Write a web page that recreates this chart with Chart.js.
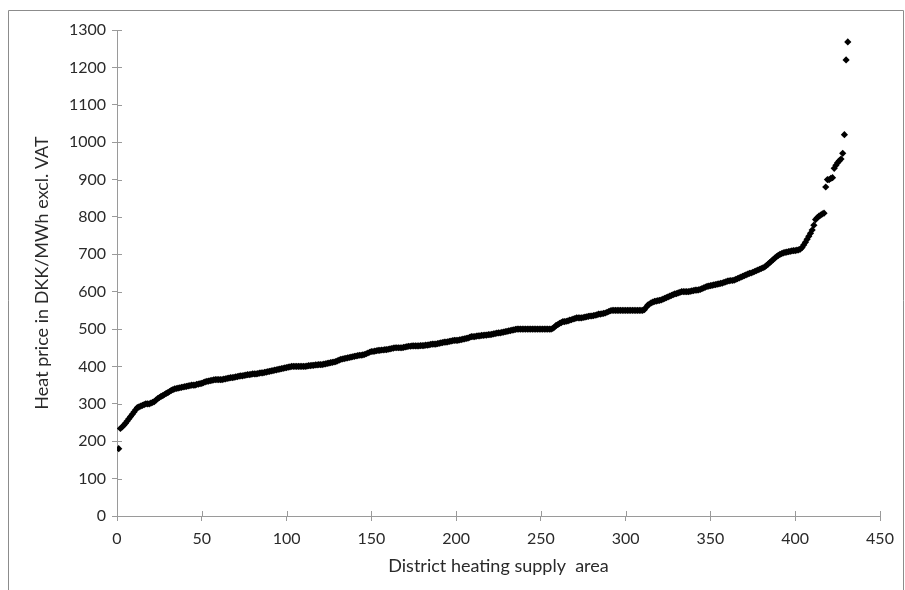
<!DOCTYPE html>
<html>
<head>
<meta charset="utf-8">
<script src="https://cdn.jsdelivr.net/npm/chart.js@4/dist/chart.umd.min.js"></script>
<style>
  html, body { margin: 0; padding: 0; background: #fff; }
  #chart { display: block; }
</style>
</head>
<body>
<canvas id="chart" width="905" height="590"></canvas>
<script>
'use strict';

//*****DATA******/

// heat price per district heating supply area, sorted (area rank = position + 1)
let heatPrices = [
  180, 234, 238, 243, 248, 254, 260, 266, 272, 278,
  284, 290, 292, 294, 296, 298, 300, 300, 300, 302,
  304, 306, 310, 314, 317, 320, 322, 325, 328, 330,
  333, 336, 338, 340, 341, 342, 343, 344, 345, 346,
  347, 348, 349, 350, 350, 350, 352, 353, 354, 355,
  357, 359, 360, 361, 362, 363, 364, 365, 365, 365,
  365, 365, 366, 367, 368, 369, 370, 370, 371, 372,
  373, 374, 375, 375, 376, 377, 378, 378, 379, 380,
  380, 380, 381, 382, 383, 383, 384, 385, 386, 387,
  388, 389, 390, 391, 392, 393, 394, 395, 396, 397,
  398, 399, 400, 400, 400, 400, 400, 400, 400, 400,
  400, 401, 402, 402, 403, 403, 404, 404, 405, 405,
  405, 406, 407, 408, 409, 410, 411, 412, 413, 415,
  417, 419, 420, 421, 422, 423, 424, 425, 426, 427,
  428, 429, 430, 430, 431, 432, 434, 436, 438, 440,
  440, 441, 442, 443, 443, 444, 444, 445, 445, 446,
  447, 448, 449, 450, 450, 450, 450, 450, 451, 452,
  453, 454, 454, 455, 455, 455, 455, 455, 456, 456,
  456, 457, 457, 458, 459, 460, 460, 460, 461, 462,
  463, 464, 465, 465, 466, 467, 468, 469, 470, 470,
  470, 471, 472, 473, 474, 475, 476, 478, 480, 480,
  480, 481, 482, 482, 483, 483, 484, 484, 485, 485,
  486, 487, 488, 489, 490, 490, 491, 492, 493, 494,
  495, 496, 497, 498, 499, 500, 500, 500, 500, 500,
  500, 500, 500, 500, 500, 500, 500, 500, 500, 500,
  500, 500, 500, 500, 500, 500, 502, 505, 510, 512,
  515, 517, 520, 520, 521, 522, 524, 525, 527, 528,
  530, 530, 530, 530, 531, 532, 533, 534, 535, 535,
  536, 537, 538, 540, 540, 541, 542, 543, 545, 547,
  549, 550, 550, 550, 550, 550, 550, 550, 550, 550,
  550, 550, 550, 550, 550, 550, 550, 550, 550, 550,
  552, 558, 564, 567, 570, 572, 574, 575, 576, 577,
  578, 580, 582, 584, 586, 588, 590, 592, 594, 595,
  597, 598, 600, 600, 600, 600, 600, 601, 602, 603,
  604, 604, 605, 606, 608, 610, 612, 614, 615, 616,
  617, 618, 619, 620, 621, 622, 623, 625, 626, 628,
  629, 630, 630, 631, 633, 635, 637, 639, 641, 643,
  645, 647, 649, 650, 652, 654, 656, 658, 660, 662,
  664, 666, 670, 674, 678, 682, 686, 690, 694, 697,
  700, 702, 704, 705, 706, 707, 708, 709, 710, 710,
  711, 712, 714, 718, 725, 732, 740, 748, 756, 765,
  778, 793, 798, 802, 805, 808, 810, 880, 900, 900,
  903, 905, 930, 938, 945, 950, 955, 970, 1020, 1220,
  1268
];

let xTicks = [0, 50, 100, 150, 200, 250, 300, 350, 400, 450];
let yTicks = [0, 100, 200, 300, 400, 500, 600, 700, 800, 900, 1000, 1100, 1200, 1300];

let xTitle = 'District heating supply  area';
let yTitle = 'Heat price in DKK/MWh excl. VAT';

//*****STYLE******/

let fontFamily = "Lato, 'Open Sans', 'Liberation Sans', sans-serif";
let axisGrey = '#9a9a9a';
let textColor = '#2a2a2a';

//*****PLUGINS******/

// little ticks on the inner side of the axes + outer frame
let crossTicks = {
  id: 'crossTicks',
  afterDraw(chart) {
    let ctx = chart.ctx;
    let area = chart.chartArea;
    let xs = chart.scales.x;
    let ys = chart.scales.y;
    ctx.save();
    ctx.strokeStyle = axisGrey;
    ctx.lineWidth = 1;
    ctx.beginPath();
    yTicks.forEach(v => {
      let py = Math.round(ys.getPixelForValue(v)) + 0.5;
      ctx.moveTo(area.left, py);
      ctx.lineTo(area.left + 5, py);
    });
    xTicks.forEach(v => {
      let px = Math.round(xs.getPixelForValue(v)) + 0.5;
      ctx.moveTo(px, area.bottom);
      ctx.lineTo(px, area.bottom - 5);
    });
    ctx.stroke();

    ctx.strokeStyle = '#8c8c8c';
    ctx.beginPath();
    ctx.moveTo(8.5, 600);
    ctx.lineTo(8.5, 10.5);
    ctx.lineTo(903.5, 10.5);
    ctx.lineTo(903.5, 600);
    ctx.stroke();
    ctx.restore();
  }
};

//*****CHART******/

let points = heatPrices.map((p, i) => ({ x: i + 1, y: p }));

let chartObj = {
  type: 'scatter',
  data: {
    datasets: [{
      data: points,
      pointStyle: 'rectRot',
      pointRadius: 3.6,
      pointBorderWidth: 0,
      backgroundColor: '#000',
      borderColor: '#000'
    }]
  },
  options: {
    responsive: false,
    animation: false,
    devicePixelRatio: 1,
    layout: { padding: { top: 30, right: 25, left: 0, bottom: 0 } },
    plugins: {
      legend: { display: false },
      tooltip: { enabled: false }
    },
    scales: {
      x: {
        type: 'linear',
        min: 0,
        max: 450,
        afterBuildTicks: scale => { scale.ticks = xTicks.map(v => ({ value: v })); },
        afterFit: scale => { scale.height = 74; },
        border: { color: axisGrey, width: 1 },
        grid: { drawOnChartArea: false, drawTicks: true, tickLength: 5, color: axisGrey },
        ticks: {
          color: textColor,
          font: { family: fontFamily, size: 16 },
          padding: 8,
          maxRotation: 0,
          callback: v => String(v)
        },
        title: {
          display: true,
          text: xTitle,
          color: textColor,
          font: { family: fontFamily, size: 18 },
          padding: { top: 0, bottom: 13 }
        }
      },
      y: {
        min: 0,
        max: 1300,
        afterBuildTicks: scale => { scale.ticks = yTicks.map(v => ({ value: v })); },
        afterFit: scale => { scale.width = 117; },
        border: { color: axisGrey, width: 1 },
        grid: { drawOnChartArea: false, drawTicks: true, tickLength: 5, color: axisGrey },
        ticks: {
          color: textColor,
          font: { family: fontFamily, size: 16 },
          padding: 6,
          callback: v => String(v)
        },
        title: {
          display: true,
          text: yTitle,
          color: textColor,
          font: { family: fontFamily, size: 18 },
          padding: { top: 31, bottom: 0 }
        }
      }
    }
  },
  plugins: [crossTicks]
};

new Chart(document.getElementById('chart'), chartObj);
</script>
</body>
</html>
